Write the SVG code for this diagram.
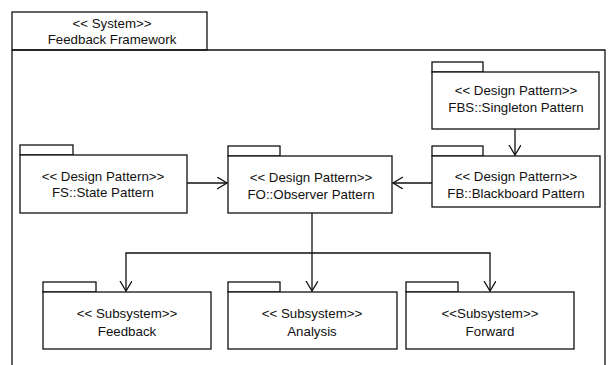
<svg xmlns="http://www.w3.org/2000/svg" width="609" height="365" viewBox="0 0 609 365">
<style>
.box{fill:#fff;stroke:#111;stroke-width:1.3}
.t{font-family:"Liberation Sans",Arial,sans-serif;font-size:13.3px;fill:#111;text-anchor:middle}
.c{fill:none;stroke:#111;stroke-width:1.3}
</style>
<defs>
<marker id="arr" markerWidth="12" markerHeight="14" refX="10" refY="6" orient="auto" markerUnits="userSpaceOnUse">
<path d="M0,0 L10,6 L0,12" fill="none" stroke="#111" stroke-width="1.3"/>
</marker>
</defs>
<rect width="609" height="365" fill="#fff"/>
<g id="system">
<rect class="box" x="12" y="12" width="195" height="38"/>
<path class="c" d="M12,50 V365 M12,50 H605 V365"/>
<text class="t" x="112" y="28">&lt;&lt; System&gt;&gt;</text>
<text class="t" x="112" y="44">Feedback Framework</text>
</g>
<g id="singleton">
<rect class="box" x="432" y="62" width="51" height="10"/>
<rect class="box" x="432" y="72" width="167" height="57"/>
<text class="t" x="516" y="95">&lt;&lt; Design Pattern&gt;&gt;</text>
<text class="t" x="516" y="112">FBS::Singleton Pattern</text>
</g>
<g id="blackboard">
<rect class="box" x="432" y="146" width="51" height="10"/>
<rect class="box" x="432" y="156" width="168" height="51"/>
<text class="t" x="516" y="181">&lt;&lt; Design Pattern&gt;&gt;</text>
<text class="t" x="516" y="198">FB::Blackboard Pattern</text>
</g>
<g id="state">
<rect class="box" x="20" y="145" width="53" height="10"/>
<rect class="box" x="20" y="155" width="167" height="58"/>
<text class="t" x="103" y="181">&lt;&lt; Design Pattern&gt;&gt;</text>
<text class="t" x="103" y="197">FS::State Pattern</text>
</g>
<g id="observer">
<rect class="box" x="228" y="146" width="52" height="10"/>
<rect class="box" x="228" y="156" width="164" height="57"/>
<text class="t" x="311" y="182">&lt;&lt; Design Pattern&gt;&gt;</text>
<text class="t" x="311" y="199">FO::Observer Pattern</text>
</g>
<g id="feedback">
<rect class="box" x="43" y="282" width="53" height="10"/>
<rect class="box" x="43" y="292" width="168" height="57"/>
<text class="t" x="127" y="318">&lt;&lt; Subsystem&gt;&gt;</text>
<text class="t" x="127" y="336">Feedback</text>
</g>
<g id="analysis">
<rect class="box" x="228" y="282" width="52" height="10"/>
<rect class="box" x="228" y="292" width="169" height="57"/>
<text class="t" x="312" y="318">&lt;&lt; Subsystem&gt;&gt;</text>
<text class="t" x="312" y="336">Analysis</text>
</g>
<g id="forward">
<rect class="box" x="406" y="282" width="52" height="10"/>
<rect class="box" x="406" y="292" width="168" height="57"/>
<text class="t" x="490" y="318">&lt;&lt;Subsystem&gt;&gt;</text>
<text class="t" x="490" y="336">Forward</text>
</g>
<g id="connectors">
<path class="c" d="M515,129 V155" marker-end="url(#arr)"/>
<path class="c" d="M187,183 H227" marker-end="url(#arr)"/>
<path class="c" d="M432,183 H393" marker-end="url(#arr)"/>
<path class="c" d="M312,213 V291" marker-end="url(#arr)"/>
<path class="c" d="M312,253 H126 V291" marker-end="url(#arr)"/>
<path class="c" d="M312,253 H490 V291" marker-end="url(#arr)"/>
</g>
</svg>
